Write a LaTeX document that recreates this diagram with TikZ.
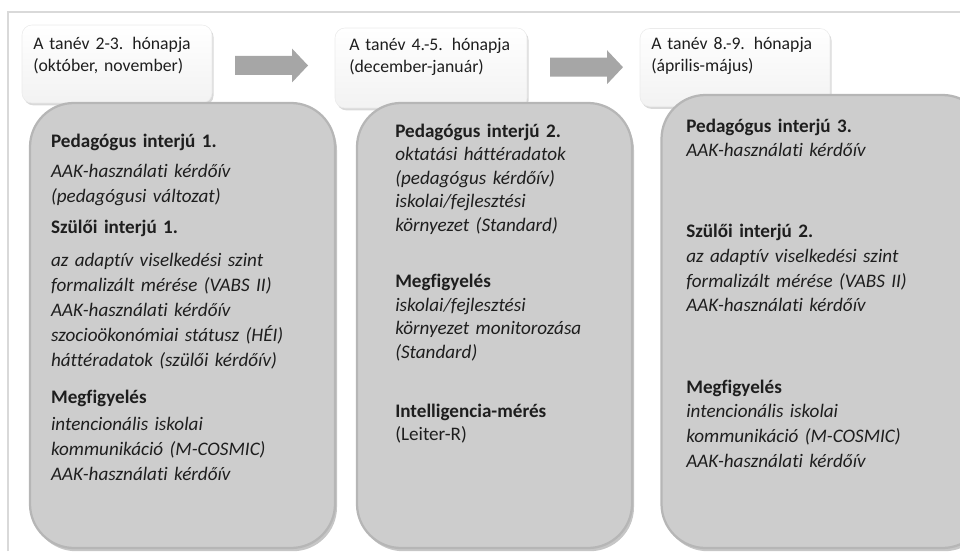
\documentclass[tikz,border=0pt]{standalone}
\usepackage{fontspec}
\setmainfont{Carlito}[Ligatures=NoCommon]
\usetikzlibrary{shadows}
\definecolor{framegray}{HTML}{D9D9D9}
\definecolor{boxgray}{HTML}{CDCDCD}
\definecolor{rimgray}{HTML}{B6B6B6}
\definecolor{arrowgray}{HTML}{A6A6A6}
\definecolor{textgray}{HTML}{1E1E1E}

\begin{document}
\begin{tikzpicture}[
  hdr/.style={rounded corners=0.25cm, draw=black!8, top color=white, bottom color=black!5,
    minimum width=4.75cm, minimum height=1.95cm, inner sep=0,
    drop shadow={shadow xshift=0.04cm, shadow yshift=-0.06cm, opacity=0.3}},
  mainbox/.style={rounded corners=1.1cm, fill=boxgray, draw=rimgray, line width=1.6pt, inner sep=0,
    drop shadow={shadow xshift=0.05cm, shadow yshift=-0.08cm, opacity=0.45}},
  hdtxt/.style={anchor=base west, text width=4.5cm, align=left, inner sep=0, text=textgray,
    font=\fontsize{12.6}{15}\selectfont},
  boxtxt/.style={anchor=base west, text width=7cm, align=left, inner sep=0, text=textgray,
    font=\fontsize{13.6}{17.7}\selectfont}
]
  \useasboundingbox (0,0) rectangle (24,-13.775);
  \clip (0,0) rectangle (24,-13.775);
  % keret
  \draw[framegray, line width=1.4pt] (0.2,-13.775) -- (0.2,-0.3) -- (24,-0.3);
  % fejlécek
  \node[hdr] (h1) at (2.925,-1.6) {};
  \node[hdr, minimum width=4.8cm, minimum height=2cm] (h2) at (10.775,-1.7) {};
  \node[hdr] (h3) at (18.375,-1.6875) {};
  \node[hdtxt] (ht1) at (0.825,-1.25) {A tanév 2-3. hónapja\\(október, november)};
  \node[hdtxt] (ht2) at (8.725,-1.275) {A tanév 4.-5. hónapja\\(december-január)};
  \node[hdtxt] (ht3) at (16.275,-1.25) {A tanév 8.-9. hónapja\\(április-május)};
  % nyilak
  \coordinate (a1) at (5.875,-1.6375);
  \coordinate (a2) at (13.75,-1.68);
  \foreach \a in {a1,a2}
    \fill[arrowgray] (\a) ++(0,0.2375) -- ++(1.425,0) -- ++(0,0.1875) -- ++(0.4,-0.425)
      -- ++(-0.4,-0.425) -- ++(0,0.1875) -- ++(-1.425,0) -- cycle;
  % dobozok
  \node[mainbox, minimum width=7.625cm, minimum height=11.125cm] (b1) at (4.5625,-8.1375) {};
  \node[mainbox, minimum width=6.875cm, minimum height=11.125cm] (b2) at (12.3625,-8.1375) {};
  \node[mainbox, minimum width=8.125cm, minimum height=11.325cm] (b3) at (20.6,-8.0375) {};
  \node[boxtxt] (bt1) at (1.27,-3.675) {%
    \textbf{Pedagógus interjú 1.}\\[4pt]
    {\itshape AAK-használati kérdőív\\(pedagógusi változat)}\\[4.5pt]
    \textbf{Szülői interjú 1.}\\[6pt]
    {\itshape az adaptív viselkedési szint\\formalizált mérése (VABS II)\\AAK-használati kérdőív\\
      szocioökonómiai státusz (HÉI)\\háttéradatok (szülői kérdőív)}\\[9pt]
    \textbf{Megfigyelés}\\[1.5pt]
    {\itshape intencionális iskolai\\kommunikáció (M-COSMIC)\\AAK-használati kérdőív}};
  \node[boxtxt, font=\fontsize{13.6}{16.8}\selectfont] (bt2) at (9.875,-3.425) {%
    \textbf{Pedagógus interjú 2.}\\
    {\itshape oktatási háttéradatok\\(pedagógus kérdőív)\\iskolai/fejlesztési\\környezet (Standard)}\\[23pt]
    \textbf{Megfigyelés}\\
    {\itshape iskolai/fejlesztési\\környezet monitorozása\\(Standard)}\\[25pt]
    \textbf{Intelligencia-mérés}\\
    (Leiter-R)};
  \node[boxtxt] (bt3) at (17.15,-3.3) {%
    \textbf{Pedagógus interjú 3.}\\
    {\itshape AAK-használati kérdőív}\\[39.5pt]
    \textbf{Szülői interjú 2.}\\
    {\itshape az adaptív viselkedési szint\\formalizált mérése (VABS II)\\AAK-használati kérdőív}\\[40pt]
    \textbf{Megfigyelés}\\
    {\itshape intencionális iskolai\\kommunikáció (M-COSMIC)\\AAK-használati kérdőív}};
\end{tikzpicture}
\end{document}
